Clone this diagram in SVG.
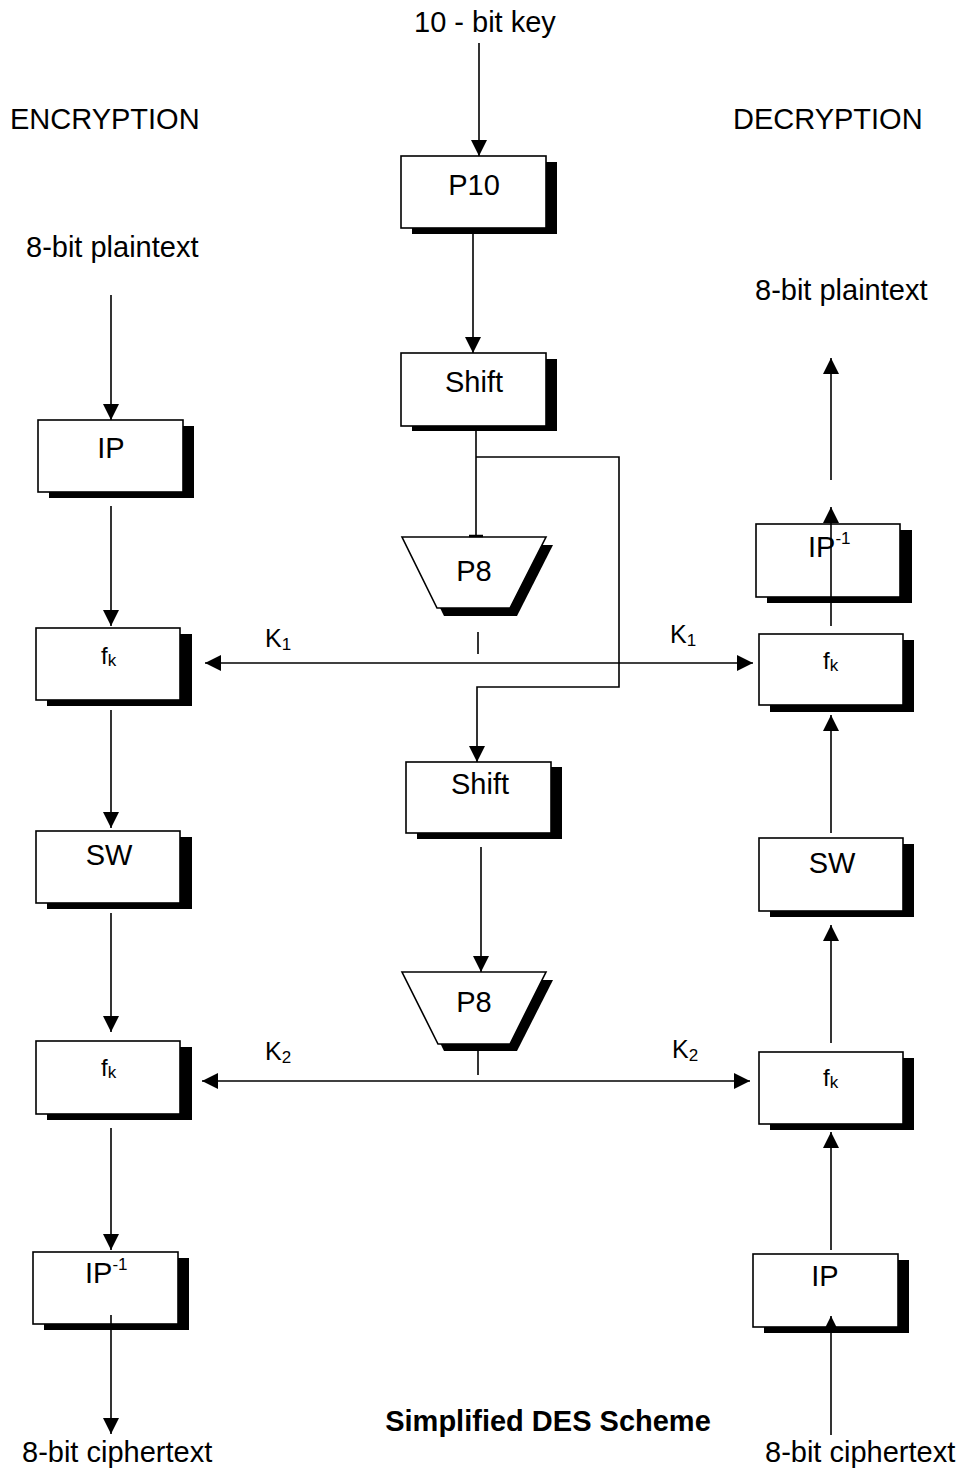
<svg xmlns="http://www.w3.org/2000/svg" width="964" height="1470" viewBox="0 0 964 1470">
<style>
text{font-family:"Liberation Sans",Arial,sans-serif;fill:#000;font-size:29px}
.sh{fill:#000;stroke:none}
.bx{fill:#fff;stroke:#000;stroke-width:1.6}
.ln{fill:none;stroke:#000;stroke-width:1.6}
.fk{font-size:24px}
.sub{font-size:17px}
.k{font-size:25px}
.title{font-weight:bold;font-size:29px}
</style>
<defs>
<marker id="ah" viewBox="0 0 16 16" refX="16" refY="8" markerWidth="16" markerHeight="16" markerUnits="userSpaceOnUse" orient="auto-start-reverse">
<path d="M0,0 L16,8 L0,16 z" fill="#000"/>
</marker>
</defs>
<rect width="964" height="1470" fill="#fff"/>

<g id="labels">
<text x="414" y="32">10 - bit key</text>
<text x="10" y="129">ENCRYPTION</text>
<text x="733" y="129">DECRYPTION</text>
<text x="26" y="257">8-bit plaintext</text>
<text x="755" y="300">8-bit plaintext</text>
<text x="22" y="1462">8-bit ciphertext</text>
<text x="765" y="1462">8-bit ciphertext</text>
<text class="title" x="548" y="1431" text-anchor="middle">Simplified DES Scheme</text>
<text class="k" x="265" y="647">K<tspan class="sub" dy="3">1</tspan></text>
<text class="k" x="670" y="643">K<tspan class="sub" dy="3">1</tspan></text>
<text class="k" x="265" y="1060">K<tspan class="sub" dy="3">2</tspan></text>
<text class="k" x="672" y="1058">K<tspan class="sub" dy="3">2</tspan></text>
</g>

<g id="p10"><rect class="sh" x="412" y="162" width="145" height="72"/><rect class="bx" x="401" y="156" width="145" height="72"/><text x="474" y="195" text-anchor="middle">P10</text></g>
<g id="shift1"><rect class="sh" x="412" y="359" width="145" height="72"/><rect class="bx" x="401" y="353" width="145" height="73"/><text x="474" y="392" text-anchor="middle">Shift</text></g>
<g id="p8a"><polygon class="sh" points="409,545 553,545 517,616 444,616"/><polygon class="bx" points="402,537 546,537 510,608 437,608"/><text x="474" y="581" text-anchor="middle">P8</text></g>
<g id="shift2"><rect class="sh" x="417" y="767" width="145" height="72"/><rect class="bx" x="406" y="762" width="145" height="71"/><text x="480" y="794" text-anchor="middle">Shift</text></g>
<g id="p8b"><polygon class="sh" points="409,980 553,980 517,1051 444,1051"/><polygon class="bx" points="402,972 546,972 510,1044 438,1044"/><text x="474" y="1012" text-anchor="middle">P8</text></g>

<g id="enc_ip"><rect class="sh" x="49" y="426" width="145" height="72"/><rect class="bx" x="38" y="420" width="145" height="72"/><text x="111" y="458" text-anchor="middle">IP</text></g>
<g id="enc_fk1"><rect class="sh" x="47" y="634" width="145" height="72"/><rect class="bx" x="36" y="628" width="144" height="72"/><text class="fk" x="101" y="664">f<tspan class="sub" dy="2">k</tspan></text></g>
<g id="enc_sw"><rect class="sh" x="47" y="837" width="145" height="72"/><rect class="bx" x="36" y="831" width="144" height="72"/><text x="109" y="865" text-anchor="middle">SW</text></g>
<g id="enc_fk2"><rect class="sh" x="47" y="1047" width="145" height="73"/><rect class="bx" x="36" y="1041" width="144" height="73"/><text class="fk" x="101" y="1076">f<tspan class="sub" dy="2">k</tspan></text></g>
<g id="enc_ipinv"><rect class="sh" x="44" y="1258" width="145" height="72"/><rect class="bx" x="33" y="1252" width="145" height="72"/><text x="85" y="1283">IP<tspan class="sub" dy="-13">-1</tspan></text></g>

<g id="dec_ipinv"><rect class="sh" x="767" y="530" width="145" height="73"/><rect class="bx" x="756" y="524" width="144" height="73"/><text x="808" y="557">IP<tspan class="sub" dy="-13">-1</tspan></text></g>
<g id="dec_fk1"><rect class="sh" x="770" y="640" width="144" height="72"/><rect class="bx" x="759" y="634" width="144" height="71"/><text class="fk" x="823" y="669">f<tspan class="sub" dy="2">k</tspan></text></g>
<g id="dec_sw"><rect class="sh" x="770" y="844" width="144" height="73"/><rect class="bx" x="759" y="838" width="144" height="73"/><text x="832" y="873" text-anchor="middle">SW</text></g>
<g id="dec_fk2"><rect class="sh" x="770" y="1058" width="144" height="72"/><rect class="bx" x="759" y="1052" width="144" height="72"/><text class="fk" x="823" y="1086">f<tspan class="sub" dy="2">k</tspan></text></g>
<g id="dec_ip"><rect class="sh" x="764" y="1260" width="145" height="73"/><rect class="bx" x="753" y="1254" width="145" height="73"/><text x="825" y="1286" text-anchor="middle">IP</text></g>

<g id="connectors">
<line class="ln" x1="479" y1="43" x2="479" y2="156" marker-end="url(#ah)"/>
<line class="ln" x1="473" y1="230" x2="473" y2="353" marker-end="url(#ah)"/>
<line class="ln" x1="476" y1="427" x2="476" y2="537"/>
<line x1="469" y1="536" x2="483" y2="536" stroke="#000" stroke-width="2.5"/>
<polyline class="ln" points="476,457 619,457 619,687 477,687 477,762" marker-end="url(#ah)"/>
<line class="ln" x1="478" y1="632" x2="478" y2="654"/>
<line class="ln" x1="205" y1="663" x2="753" y2="663" marker-start="url(#ah)" marker-end="url(#ah)"/>
<line class="ln" x1="481" y1="847" x2="481" y2="972" marker-end="url(#ah)"/>
<line class="ln" x1="478" y1="1044" x2="478" y2="1075"/>
<line class="ln" x1="202" y1="1081" x2="750" y2="1081" marker-start="url(#ah)" marker-end="url(#ah)"/>

<line class="ln" x1="111" y1="295" x2="111" y2="420" marker-end="url(#ah)"/>
<line class="ln" x1="111" y1="506" x2="111" y2="626" marker-end="url(#ah)"/>
<line class="ln" x1="111" y1="710" x2="111" y2="828" marker-end="url(#ah)"/>
<line class="ln" x1="111" y1="913" x2="111" y2="1032" marker-end="url(#ah)"/>
<line class="ln" x1="111" y1="1128" x2="111" y2="1250" marker-end="url(#ah)"/>
<line class="ln" x1="111" y1="1315" x2="111" y2="1434" marker-end="url(#ah)"/>

<line class="ln" x1="831" y1="480" x2="831" y2="358" marker-end="url(#ah)"/>
<line class="ln" x1="831" y1="626" x2="831" y2="507" marker-end="url(#ah)"/>
<line class="ln" x1="831" y1="833" x2="831" y2="715" marker-end="url(#ah)"/>
<line class="ln" x1="831" y1="1043" x2="831" y2="925" marker-end="url(#ah)"/>
<line class="ln" x1="831" y1="1250" x2="831" y2="1132" marker-end="url(#ah)"/>
<line class="ln" x1="831" y1="1435" x2="831" y2="1316" marker-end="url(#ah)"/>
</g>
</svg>
